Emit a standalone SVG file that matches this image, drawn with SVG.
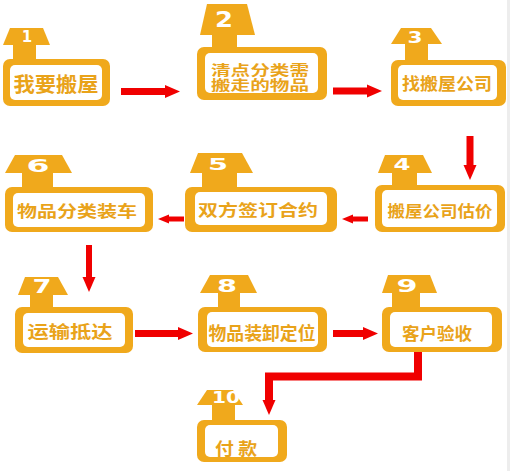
<svg xmlns="http://www.w3.org/2000/svg" width="512" height="471" viewBox="0 0 512 471">
<style>
.g{fill:#F0A91C}
.w{fill:#FFFFFF}
.t{font-family:"Noto Sans CJK SC","Noto Sans CJK TC",sans-serif;font-weight:700;fill:#E9A31A;text-anchor:middle}
.n{font-family:"DejaVu Sans",sans-serif;font-weight:700;fill:#FFFFFF;text-anchor:middle}
.a{fill:none;stroke:#F00000}
</style>
<defs>
<marker id="ah" markerUnits="userSpaceOnUse" markerWidth="16" markerHeight="14" refX="1" refY="7" orient="auto">
<path d="M0,0.5 L15,7 L0,13.5 Z" fill="#F00000"/>
</marker>
<marker id="ahs" markerUnits="userSpaceOnUse" markerWidth="12" markerHeight="10" refX="1" refY="5" orient="auto">
<path d="M0,0.5 L11,5 L0,9.5 Z" fill="#F00000"/>
</marker>
</defs>
<rect width="512" height="471" fill="#FFFFFF"/>
<rect x="507" y="0" width="3" height="471" fill="#EDEDED"/>

<g id="connectors">
<line class="a" x1="121" y1="91.5" x2="166" y2="91.5" stroke-width="7" marker-end="url(#ah)"/>
<line class="a" x1="333" y1="91" x2="368" y2="91" stroke-width="7" marker-end="url(#ah)"/>
<line class="a" x1="470" y1="136" x2="470" y2="166" stroke-width="7" marker-end="url(#ah)"/>
<line class="a" x1="368" y1="219" x2="352" y2="219" stroke-width="5" marker-end="url(#ahs)"/>
<line class="a" x1="184" y1="219" x2="168" y2="219" stroke-width="5" marker-end="url(#ahs)"/>
<line class="a" x1="89" y1="245" x2="89" y2="278" stroke-width="6" marker-end="url(#ah)"/>
<line class="a" x1="135" y1="333.5" x2="179" y2="333.5" stroke-width="7" marker-end="url(#ah)"/>
<line class="a" x1="333" y1="333.5" x2="364" y2="333.5" stroke-width="7" marker-end="url(#ah)"/>
<path class="a" d="M418,352 L418,376.5 L269,376.5 L269,401" stroke-width="8" stroke-linejoin="miter" marker-end="url(#ah)"/>
</g>

<g id="node1">
<polygon class="g" points="10,28 43,28 50,45 3,45"/>
<rect class="g" x="13" y="44" width="23" height="17"/>
<rect class="g" x="3" y="59" width="107" height="47" rx="7"/>
<rect class="w" x="10" y="65" width="92" height="35" rx="5"/>
<text class="n" x="27" y="42" font-size="15">1</text>
<text class="t" x="56" y="92" font-size="20" textLength="85" lengthAdjust="spacingAndGlyphs">我要搬屋</text>
</g>

<g id="node2">
<polygon class="g" points="207,4 247,4 255,35 200,35"/>
<rect class="g" x="212" y="34" width="25" height="15"/>
<rect class="g" x="197" y="47" width="130" height="53" rx="7"/>
<rect class="w" x="205" y="53" width="113" height="40" rx="5"/>
<text class="n" x="224" y="27" font-size="22" textLength="18" lengthAdjust="spacingAndGlyphs">2</text>
<text class="t" font-size="13.5"><tspan x="260" y="75" textLength="98" lengthAdjust="spacingAndGlyphs">清点分类需</tspan><tspan x="260" y="90" textLength="98" lengthAdjust="spacingAndGlyphs">搬走的物品</tspan></text>
</g>

<g id="node3">
<polygon class="g" points="401,28 431,28 442,44 391,44"/>
<rect class="g" x="405" y="43" width="23" height="18"/>
<rect class="g" x="391" y="60" width="115" height="46" rx="7"/>
<rect class="w" x="398" y="65" width="99" height="35" rx="5"/>
<text class="n" x="415" y="43" font-size="15" textLength="15" lengthAdjust="spacingAndGlyphs">3</text>
<text class="t" x="447" y="90" font-size="17" textLength="90" lengthAdjust="spacingAndGlyphs">找搬屋公司</text>
</g>

<g id="node4">
<polygon class="g" points="385,155 423,155 432,173 378,173"/>
<rect class="g" x="392" y="172" width="25" height="15"/>
<rect class="g" x="375" y="185" width="130" height="47" rx="7"/>
<rect class="w" x="382" y="190" width="115" height="37" rx="5"/>
<text class="n" x="402" y="170" font-size="16" textLength="17" lengthAdjust="spacingAndGlyphs">4</text>
<text class="t" x="440" y="217" font-size="16" textLength="105" lengthAdjust="spacingAndGlyphs">搬屋公司估价</text>
</g>

<g id="node5">
<polygon class="g" points="198,153 242,153 253,173 190,173"/>
<rect class="g" x="202" y="172" width="35" height="16"/>
<rect class="g" x="185" y="187" width="152" height="45" rx="7"/>
<rect class="w" x="195" y="192" width="132" height="33" rx="5"/>
<text class="n" x="218" y="170" font-size="16" textLength="20" lengthAdjust="spacingAndGlyphs">5</text>
<text class="t" x="258" y="216" font-size="16" textLength="120" lengthAdjust="spacingAndGlyphs">双方签订合约</text>
</g>

<g id="node6">
<polygon class="g" points="15,155 62,155 72,173 5,173"/>
<rect class="g" x="22" y="172" width="31" height="16"/>
<rect class="g" x="5" y="187" width="148" height="45" rx="7"/>
<rect class="w" x="13" y="193" width="132" height="34" rx="5"/>
<text class="n" x="38" y="172" font-size="17" textLength="23" lengthAdjust="spacingAndGlyphs">6</text>
<text class="t" x="77" y="217" font-size="16" textLength="120" lengthAdjust="spacingAndGlyphs">物品分类装车</text>
</g>

<g id="node7">
<polygon class="g" points="25,277 58,277 68,295 18,295"/>
<rect class="g" x="30" y="294" width="23" height="14"/>
<rect class="g" x="15" y="307" width="118" height="46" rx="7"/>
<rect class="w" x="23" y="313" width="102" height="34" rx="5"/>
<text class="n" x="42" y="293" font-size="19" textLength="19" lengthAdjust="spacingAndGlyphs">7</text>
<text class="t" x="70" y="338" font-size="17" textLength="85" lengthAdjust="spacingAndGlyphs" font-weight="400">运输抵达</text>
</g>

<g id="node8">
<polygon class="g" points="210,275 248,275 257,293 200,293"/>
<rect class="g" x="218" y="292" width="22" height="16"/>
<rect class="g" x="198" y="307" width="129" height="45" rx="7"/>
<rect class="w" x="207" y="312" width="111" height="35" rx="5"/>
<text class="n" x="227" y="292" font-size="18" textLength="20" lengthAdjust="spacingAndGlyphs">8</text>
<text class="t" x="262" y="340" font-size="18" textLength="107" lengthAdjust="spacingAndGlyphs">物品装卸定位</text>
</g>

<g id="node9">
<polygon class="g" points="388,275 430,275 437,293 382,293"/>
<rect class="g" x="392" y="292" width="28" height="16"/>
<rect class="g" x="382" y="307" width="120" height="45" rx="7"/>
<rect class="w" x="390" y="312" width="102" height="35" rx="5"/>
<text class="n" x="407" y="292" font-size="18" textLength="21" lengthAdjust="spacingAndGlyphs">9</text>
<text class="t" x="437" y="340" font-size="17" textLength="70" lengthAdjust="spacingAndGlyphs">客户验收</text>
</g>

<g id="node10">
<polygon class="g" points="207,390 233,390 243,405 197,405"/>
<rect class="g" x="212" y="404" width="23" height="17"/>
<rect class="g" x="197" y="420" width="90" height="42" rx="7"/>
<rect class="w" x="205" y="425" width="73" height="32" rx="5"/>
<text class="n" x="226" y="403" font-size="15" textLength="28" lengthAdjust="spacingAndGlyphs">10</text>
<text class="t" x="236" y="455" font-size="17" textLength="42" lengthAdjust="spacingAndGlyphs" font-weight="400">付 款</text>
</g>
</svg>
